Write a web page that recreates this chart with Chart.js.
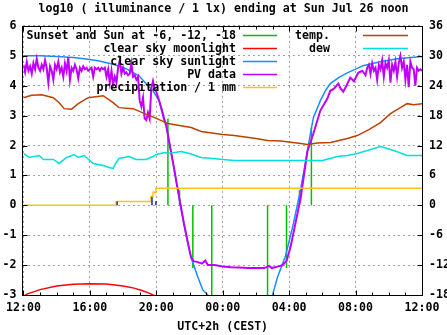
<!DOCTYPE html>
<html>
<head>
<meta charset="utf-8">
<script src="https://cdn.jsdelivr.net/npm/chart.js@4.4.1/dist/chart.umd.min.js"></script>
<style>
  body { margin: 0; background: #fff; }
  #wrap { width: 447px; height: 335px; }
</style>
</head>
<body>
<div id="wrap"><canvas id="myChart" width="447" height="335"></canvas></div>
<script>
// hours after 12:00 (Sat) -> 24 = 12:00 Sun
var titleText = 'log10 ( illuminance / 1 lx) ending at Sun Jul 26 noon';
var xTickLabels = ['12:00', '16:00', '20:00', '00:00', '04:00', '08:00', '12:00'];

var sunEventHours = [8.7, 9.4, 10.2, 11.34, 14.7, 15.84, 16.62, 17.34];
var sunEventHeights = [2.9, 0.5, -2.1, -3, -3, -2.1, 0.5, 2.6];

var moonHours = [0, 0.2, 1.0, 2.0, 3.0, 4.0, 5.0, 6.0, 6.66, 7.08, 7.5, 7.9];
var moonValues = [-3.05, -2.97, -2.82, -2.7, -2.64, -2.62, -2.63, -2.7, -2.77, -2.84, -2.92, -3.02];

var sunHours = [0, 1, 2, 3, 4, 4.56, 5.4, 6.18, 6.96, 7.5, 7.8, 8.16, 8.35, 8.46, 8.58, 8.8, 9.05, 9.3, 9.66, 10.08,
  10.5, 10.8, 11.1, 11.5, 12, 13, 14, 14.6, 15.0, 15.3, 15.78, 16.26, 16.68, 17.0, 17.28, 17.46, 17.88, 18.2, 18.48, 19.0,
  19.5, 20.46, 21.48, 22.5, 24];
var sunValues = [5.0, 5.0, 4.98, 4.94, 4.88, 4.83, 4.72, 4.57, 4.33, 4.0, 3.83, 3.5, 3.2, 2.93, 2.73, 2.05, 1.28, 0.5, -0.6, -1.73,
  -2.4, -2.83, -3.0, -3.6, -4.2, -4.6, -4.2, -3.5, -3.0, -2.4, -1.7, -0.6, 0.5, 1.5, 2.4, 2.93, 3.5, 3.85, 4.07, 4.28,
  4.43, 4.67, 4.8, 4.9, 4.98];

var pvHours = [
  0.0, 0.1, 0.2, 0.3, 0.4, 0.5, 0.6, 0.7, 0.8, 0.9, 1.0, 1.1, 1.2, 1.3, 1.4, 1.5, 1.6, 1.7, 1.8, 1.9,
  2.0, 2.1, 2.2, 2.3, 2.4, 2.5, 2.6, 2.7, 2.8, 2.9, 3.0, 3.1, 3.2, 3.3, 3.4, 3.5, 3.6, 3.7, 3.8, 3.9,
  4.0, 4.1, 4.2, 4.3, 4.4, 4.5, 4.6, 4.7, 4.8, 4.9, 5.0, 5.1, 5.2, 5.3, 5.4, 5.5, 5.6, 5.7, 5.8, 5.9,
  6.0, 6.1, 6.2, 6.3, 6.4, 6.5, 6.6, 6.7, 6.8, 6.9, 7.0, 7.1, 7.2, 7.3, 7.4, 7.5, 7.6, 7.7, 7.8, 7.9,
  8.0, 8.2, 8.46, 8.6, 8.8, 9.05, 9.3, 9.66, 9.9, 10.1, 10.25, 10.5, 10.75, 10.95, 11.1, 11.5, 12.0, 12.5, 13.0, 13.5,
  14.0, 14.5, 14.8, 14.95, 15.3, 15.6, 15.85, 16.08, 16.38, 16.68, 17.1, 17.46, 17.88, 18.3, 18.48, 18.7, 18.96, 19.1, 19.26, 19.45,
  19.68, 19.9, 20.16, 20.4, 20.6, 20.7,
  20.8, 20.9, 21.0, 21.1, 21.2, 21.3, 21.4, 21.5, 21.6, 21.7, 21.8, 21.9, 22.0, 22.1, 22.2, 22.3, 22.4, 22.5, 22.6, 22.7,
  22.8, 22.9, 23.0, 23.1, 23.2, 23.3, 23.4, 23.5, 23.6, 23.7, 23.8, 23.9, 24.0];
var pvValues = [
  4.7, 4.45, 4.8, 4.5, 4.65, 4.4, 4.75, 4.55, 4.9, 4.6, 4.5, 4.7, 4.55, 4.85, 4.6, 4.1, 4.65, 4.5, 4.2, 4.7,
  4.55, 4.8, 4.45, 4.6, 4.3, 4.75, 4.5, 4.95, 4.2, 4.6, 4.5, 4.7, 4.55, 4.25, 4.6, 4.5, 4.65, 4.55, 4.6, 4.5,
  4.55, 4.6, 4.3, 4.6, 4.55, 4.6, 4.5, 4.6, 4.55, 4.6, 4.3, 4.55, 4.1, 4.5, 4.05, 4.3, 4.1, 4.6, 4.85, 4.4,
  4.6, 4.4, 4.45, 4.35, 4.4, 4.75, 4.3, 4.35, 4.2, 4.3, 3.5, 3.3, 3.6, 2.9, 2.85, 3.1, 2.9, 3.9, 4.15, 3.9,
  3.8, 3.45, 2.9, 2.65, 2.05, 1.3, 0.5, -0.6, -1.25, -1.75, -1.87, -1.9, -1.95, -1.85, -2.0, -2.0, -2.05, -2.07, -2.08, -2.1,
  -2.1, -2.1, -2.03, -2.1, -2.05, -2.0, -1.85, -1.4, -0.6, 0.2, 1.8, 2.4, 3.17, 3.57, 3.83, 3.9, 4.07, 3.9, 3.8, 4.0,
  4.27, 4.15, 4.43, 4.5, 4.35, 4.6,
  4.7, 4.4, 4.75, 4.5, 4.6, 4.2, 4.7, 4.55, 4.85, 4.3, 4.75, 4.6, 4.85, 4.1, 4.7, 4.5, 4.8, 4.3, 4.75, 5.0,
  4.6, 4.8, 4.2, 4.7, 3.95, 4.8, 4.6, 4.55, 4.0, 4.6, 4.5, 4.55, 4.5];

var precipHours = [0, 5.58, 5.58, 7.68, 7.68, 7.8, 7.8, 7.98, 7.98, 24];
var precipValues = [0, 0, 0.13, 0.13, 0.3, 0.3, 0.44, 0.44, 0.57, 0.57];

var rainHours = [5.64, 7.74, 7.98];
var rainHeights = [0.13, 0.28, 0.14];

// degC, right axis
var tempHours = [0, 0.5, 1.1, 1.8, 2.15, 2.45, 2.9, 3.3, 3.9, 4.8, 5.4, 5.75, 6.6, 7.3, 7.9, 8.7, 10.1, 10.7, 12.0, 12.7,
  14.0, 14.7, 15.5, 16.7, 17.1, 17.7, 18.5, 19.5, 20.1, 20.8, 21.5, 22.1, 22.7, 23.1, 23.5, 24];
var tempValues = [21.6, 22.1, 22.2, 21.6, 20.6, 19.4, 19.3, 20.4, 21.6, 22.0, 20.6, 19.6, 19.4, 18.4, 17.6, 16.4, 15.6, 14.8, 14.2, 14.0,
  13.4, 13.0, 12.9, 12.4, 12.2, 12.5, 12.6, 13.4, 14.0, 15.2, 16.6, 18.4, 19.6, 20.4, 20.2, 20.4];

var dewHours = [0, 0.35, 0.95, 1.2, 1.8, 2.15, 2.6, 3.05, 3.3, 3.65, 4.2, 4.8, 5.15, 5.4, 5.58, 5.76, 6.36, 6.78, 7.38, 7.8,
  8.0, 8.5, 8.7, 9.5, 10.0, 10.7, 12.7, 14.7, 16.5, 18.0, 18.9, 19.5, 20.1, 21.5, 22.3, 23.1, 24];
var dewValues = [10.4, 9.6, 10.0, 9.2, 9.2, 8.4, 9.6, 10.2, 9.6, 10.0, 8.4, 8.0, 7.6, 7.4, 8.6, 9.4, 9.8, 9.2, 9.2, 9.8,
  10.2, 10.6, 10.4, 10.8, 10.4, 9.6, 9.0, 9.0, 9.0, 9.0, 9.8, 10.0, 10.4, 11.8, 11.0, 10.0, 10.0];

var FONT = 'DejaVu Sans Mono';

function toPoints(xs, ys) {
	return xs.map(function(x, i) { return {x: x, y: ys[i]}; });
}
function impulses(xs, hs) {
	var out = [];
	xs.forEach(function(x, i) {
		out.push({x: x, y: 0}, {x: x, y: hs[i]}, {x: x, y: null});
	});
	return out;
}

// gnuplot style border with inward tics
var framePlugin = {
	id: 'frame',
	afterDraw: function(chart) {
		var ctx = chart.ctx, a = chart.chartArea;
		var sx = chart.scales.x, sy = chart.scales.y, sy2 = chart.scales.y2;
		var x0 = Math.round(a.left) - 0.5, x1 = Math.round(a.right) + 0.5;
		var y0 = Math.round(a.top) + 0.5, y1 = Math.round(a.bottom) + 0.5;
		ctx.save();
		ctx.strokeStyle = '#000';
		ctx.lineWidth = 1;
		ctx.beginPath();
		for (var h = 0; h <= 24; h++) {
			var len = h % 4 === 0 ? 5 : 3;
			var px = Math.round(sx.getPixelForValue(h)) + 0.5;
			ctx.moveTo(px, y1); ctx.lineTo(px, y1 - len);
			ctx.moveTo(px, y0); ctx.lineTo(px, y0 + len);
		}
		for (var v = -3; v <= 6; v++) {
			var py = Math.round(sy.getPixelForValue(v)) + 0.5;
			ctx.moveTo(x0, py); ctx.lineTo(x0 + 5, py);
		}
		for (var t = -18; t <= 36; t += 6) {
			var py2 = Math.round(sy2.getPixelForValue(t)) + 0.5;
			ctx.moveTo(x1, py2); ctx.lineTo(x1 - 5, py2);
		}
		ctx.stroke();
		ctx.strokeRect(x0, y0, x1 - x0, y1 - y0);
		ctx.restore();
	}
};

// key: text right aligned, sample line to its right
var keyPlugin = {
	id: 'key',
	afterDatasetsDraw: function(chart) {
		var ctx = chart.ctx;
		var cols = [{textRight: 236, l0: 243, l1: 277}, {textRight: 330, l0: 363, l1: 408}];
		var rows = [0, 0];
		ctx.save();
		ctx.font = 'bold 11.6px "' + FONT + '"';
		ctx.textAlign = 'right';
		ctx.textBaseline = 'middle';
		chart.data.datasets.forEach(function(ds) {
			if (!ds.label) return;
			var c = ds.yAxisID === 'y2' ? 1 : 0;
			var col = cols[c];
			var y = 36 + rows[c] * 13;
			rows[c]++;
			ctx.fillStyle = '#000';
			ctx.fillText(ds.label, col.textRight, y);
			ctx.strokeStyle = ds.borderColor;
			ctx.lineWidth = 1.5;
			ctx.beginPath();
			ctx.moveTo(col.l0, y - 0.5);
			ctx.lineTo(col.l1, y - 0.5);
			ctx.stroke();
		});
		ctx.restore();
	}
};

var tickFont = {family: FONT, size: 11.6, weight: 'bold', lineHeight: 1.2};

var ctx = document.getElementById('myChart').getContext('2d');
var myChart = new Chart(ctx, {
	type: 'line',
	data: {
		datasets: [
			{label: 'Sunset and Sun at -6, -12, -18', data: impulses(sunEventHours, sunEventHeights), borderColor: '#00c000', borderWidth: 1.5, order: 7},
			{label: 'clear sky moonlight', data: toPoints(moonHours, moonValues), borderColor: '#ff0000', borderWidth: 1.5, order: 6},
			{label: 'clear sky sunlight', data: toPoints(sunHours, sunValues), borderColor: '#1a8cff', borderWidth: 1.5, order: 5},
			{label: 'PV data', data: toPoints(pvHours, pvValues), borderColor: '#c000ff', borderWidth: 2, order: 4},
			{label: 'precipitation / 1 mm', data: toPoints(precipHours, precipValues), borderColor: '#ffc020', borderWidth: 1.5, order: 3},
			{label: '', data: impulses(rainHours, rainHeights), borderColor: '#2020c0', borderWidth: 1.5, order: 2},
			{label: 'temp.', yAxisID: 'y2', data: toPoints(tempHours, tempValues), borderColor: '#c04000', borderWidth: 1.5, order: 1},
			{label: 'dew', yAxisID: 'y2', data: toPoints(dewHours, dewValues), borderColor: '#00e0e0', borderWidth: 1.5, order: 0}
		]
	},
	options: {
		responsive: false,
		animation: false,
		spanGaps: false,
		elements: {
			point: {radius: 0},
			line: {tension: 0, fill: false}
		},
		layout: {padding: 0},
		plugins: {
			legend: {display: false},
			tooltip: {enabled: false},
			title: {
				display: true,
				text: titleText,
				color: '#000',
				font: tickFont,
				padding: {top: 2, bottom: 10}
			}
		},
		scales: {
			x: {
				type: 'linear',
				min: 0,
				max: 24,
				ticks: {
					stepSize: 4,
					autoSkip: false,
					maxRotation: 0,
					color: '#000',
					font: tickFont,
					padding: 6,
					callback: function(v, i) { return xTickLabels[i]; }
				},
				grid: {color: '#a0a0a0', drawTicks: false},
				border: {display: false, dash: [2, 3]},
				title: {display: true, text: 'UTC+2h (CEST)', color: '#000', font: tickFont, padding: {top: 0, bottom: 1}},
				afterFit: function(s) { s.height = 40; }
			},
			y: {
				position: 'left',
				min: -3,
				max: 6,
				ticks: {stepSize: 1, color: '#000', font: tickFont, padding: 7},
				grid: {color: '#a0a0a0', drawTicks: false},
				border: {display: false, dash: [2, 3]},
				afterFit: function(s) { s.width = 22; }
			},
			y2: {
				position: 'right',
				min: -18,
				max: 36,
				ticks: {stepSize: 6, color: '#000', font: tickFont, padding: 7},
				grid: {display: false, drawTicks: false},
				border: {display: false},
				afterFit: function(s) { s.width = 25; }
			}
		}
	},
	plugins: [framePlugin, keyPlugin]
});
</script>
</body>
</html>
